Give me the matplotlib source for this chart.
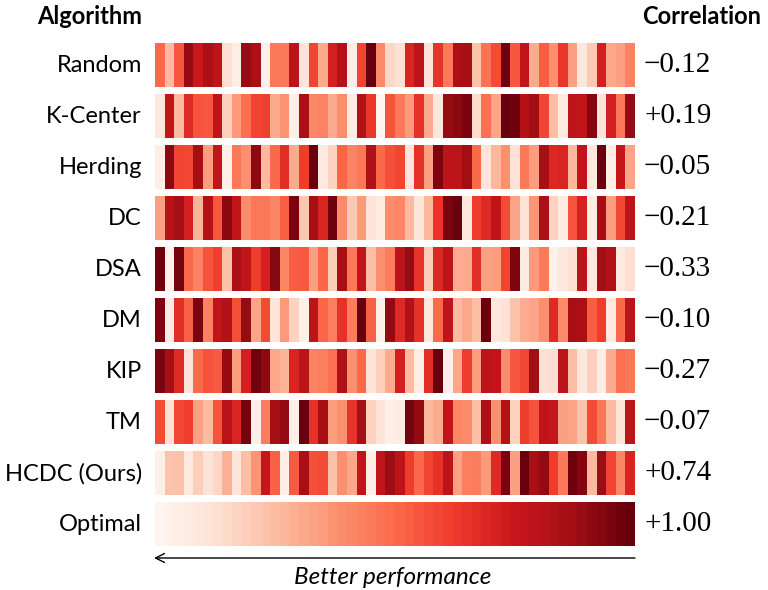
import numpy as np
import matplotlib
matplotlib.use("Agg")
import matplotlib.pyplot as plt

# Rows top to bottom and the correlation printed on the right.
algorithms = ["Random", "K-Center", "Herding", "DC", "DSA", "DM", "KIP", "TM", "HCDC (Ours)", "Optimal"]
correlations = ["\u22120.12", "+0.19", "\u22120.05", "\u22120.21", "\u22120.33",
                "\u22120.10", "\u22120.27", "\u22120.07", "+0.74", "+1.00"]

random_row = [0.50, 0.25, 0.55, 0.90, 0.75, 0.85, 0.80, 0.12, 0.05, 0.90, 0.85, 0.02, 0.45, 0.45, 0.80, 0.10, 0.60,
              0.30, 0.72, 0.82, 0.05, 0.60, 1.00, 0.40, 0.15, 0.12, 0.70, 0.80, 0.10, 0.65, 0.45, 0.85, 0.86, 0.22,
              0.47, 0.58, 0.98, 0.55, 0.78, 0.30, 0.53, 0.38, 0.64, 0.33, 0.08, 0.20, 0.72, 0.31, 0.33, 0.42]
kcenter_row = [0.08, 0.78, 0.25, 0.68, 0.56, 0.55, 0.79, 0.18, 0.35, 0.48, 0.60, 0.61, 0.30, 0.37, 0.04, 0.85, 0.41,
               0.42, 0.30, 0.39, 0.05, 0.83, 0.64, 0.01, 0.56, 0.45, 0.35, 0.66, 0.30, 0.08, 0.90, 0.92, 0.96, 0.14,
               0.48, 0.32, 1.00, 0.98, 0.82, 0.88, 0.60, 0.24, 0.06, 0.80, 0.78, 0.94, 0.10, 0.72, 0.46, 0.90]
herding_row = [0.04, 0.92, 0.60, 0.59, 0.86, 0.34, 0.78, 0.03, 0.45, 0.38, 0.92, 0.25, 0.50, 0.67, 0.30, 0.62, 1.00,
               0.07, 0.17, 0.51, 0.42, 0.46, 0.84, 0.50, 0.57, 0.60, 0.10, 0.66, 0.33, 0.95, 0.79, 0.80, 0.88, 0.50,
               0.09, 0.26, 0.38, 0.11, 0.45, 0.34, 0.86, 0.69, 0.70, 0.26, 0.78, 0.07, 0.99, 0.04, 0.77, 0.32]
dc_row = [0.33, 0.81, 0.87, 0.72, 0.27, 0.82, 0.55, 0.92, 0.78, 0.39, 0.45, 0.46, 0.41, 0.53, 0.96, 0.21, 0.86,
          0.70, 0.98, 0.40, 0.20, 0.35, 0.10, 0.06, 0.39, 0.41, 0.25, 0.09, 0.26, 0.65, 0.96, 0.99, 0.08, 0.62,
          0.68, 0.79, 0.58, 0.32, 0.11, 0.36, 0.85, 0.17, 0.06, 0.56, 0.71, 0.04, 0.87, 0.34, 0.59, 0.80]
dsa_row = [0.98, 0.02, 0.97, 0.50, 0.42, 0.56, 0.61, 0.23, 0.85, 0.79, 0.62, 0.72, 0.93, 0.41, 0.53, 0.54, 0.33,
           0.51, 0.19, 0.86, 0.46, 0.78, 0.24, 0.38, 0.44, 0.80, 0.90, 0.65, 0.19, 0.69, 0.79, 0.29, 0.30, 0.67,
           0.33, 0.34, 0.60, 0.95, 0.06, 0.35, 0.45, 0.02, 0.08, 0.12, 0.80, 0.07, 0.88, 0.83, 0.07, 0.13]
dm_row = [0.95, 0.06, 0.67, 0.52, 0.96, 0.42, 0.79, 0.83, 0.57, 0.90, 0.32, 0.58, 0.09, 0.35, 0.17, 0.03, 0.80,
          0.51, 0.43, 0.66, 0.44, 0.99, 0.52, 0.02, 0.91, 0.68, 0.83, 0.66, 0.08, 0.50, 0.79, 0.25, 0.31, 0.24,
          0.99, 0.08, 0.11, 0.22, 0.29, 0.32, 0.38, 0.68, 0.40, 0.86, 0.85, 0.53, 0.62, 0.07, 0.50, 0.80]
kip_row = [0.96, 0.87, 0.68, 0.10, 0.50, 0.56, 0.54, 0.90, 0.34, 0.72, 0.98, 0.92, 0.31, 0.27, 0.70, 0.80, 0.42,
           0.43, 0.48, 0.84, 0.38, 0.50, 0.10, 0.18, 0.30, 0.72, 0.25, 0.05, 0.67, 1.00, 0.03, 0.31, 0.62, 0.34,
           0.80, 0.78, 0.39, 0.55, 0.59, 0.88, 0.12, 0.13, 0.80, 0.24, 0.08, 0.18, 0.04, 0.30, 0.48, 0.46]
tm_row = [0.58, 0.12, 0.59, 0.61, 0.33, 0.25, 0.56, 0.81, 0.70, 0.97, 0.04, 0.44, 0.87, 0.91, 0.03, 0.99, 0.66,
          0.86, 0.34, 0.38, 0.65, 0.87, 0.17, 0.10, 0.04, 0.06, 0.97, 0.91, 0.26, 0.30, 0.78, 0.41, 0.40, 0.24,
          0.85, 0.38, 0.82, 0.17, 0.62, 0.56, 0.79, 0.77, 0.33, 0.32, 0.22, 0.58, 0.46, 0.25, 0.09, 0.80]
hcdc_row = [0.03, 0.22, 0.23, 0.07, 0.19, 0.10, 0.16, 0.28, 0.09, 0.24, 0.37, 0.77, 0.52, 0.04, 0.54, 0.86, 0.57,
            0.58, 0.23, 0.38, 0.31, 0.78, 0.04, 0.79, 0.89, 0.80, 0.62, 0.50, 0.60, 0.66, 0.80, 0.33, 0.43, 0.44,
            0.35, 0.68, 0.96, 0.33, 0.99, 0.86, 0.91, 0.62, 0.45, 0.98, 0.94, 0.25, 0.89, 0.60, 0.41, 0.70]
# Optimal row is just the rank order, lightest to darkest.
optimal_rank = [0, 1, 2, 3, 4, 5, 6, 7, 8, 9, 10, 11, 12, 13, 14, 15, 16, 17, 18, 19, 20, 21, 22, 23, 24,
                25, 26, 27, 28, 29, 30, 31, 32, 33, 34, 35, 36, 37, 38, 39, 40, 41, 42, 43, 44, 45, 46, 47, 48, 49]

rows = [random_row, kcenter_row, herding_row, dc_row, dsa_row, dm_row, kip_row, tm_row, hcdc_row,
        list(np.array(optimal_rank) / max(optimal_rank))]

W, H = 768, 590
STRIP = 0.852  # strip height as a fraction of the row pitch
LABEL_FONT = "Lato"
NUM_FONT = "Liberation Serif"

fig = plt.figure(figsize=(W / 100, H / 100), dpi=100)
top_px, pitch_px = 43.3, 51.05
ax = fig.add_axes([155 / W, 1 - (top_px + (9 + STRIP) * pitch_px) / H, 480 / W, (9 + STRIP) * pitch_px / H])

for i, row in enumerate(rows):
    ax.imshow(np.array(row)[None, :], cmap="Reds", vmin=0, vmax=1, aspect="auto",
              interpolation="nearest", extent=(0, len(row), i + STRIP, i))
ax.set_xlim(0, 50)
ax.set_ylim(9 + STRIP, 0)
ax.axis("off")

def fy(py):
    # Pixel row (from the top) to figure fraction.
    return 1 - py / H

for i, (name, corr) in enumerate(zip(algorithms, correlations)):
    yc = fy(top_px + i * pitch_px + STRIP * pitch_px / 2)
    fig.text(142 / W, yc, name, ha="right", va="center", fontsize=17, family=LABEL_FONT)
    fig.text(644 / W, yc, corr, ha="left", va="center", fontsize=21, family=NUM_FONT)

fig.text(142 / W, fy(17), "Algorithm", ha="right", va="center", fontsize=17, family=LABEL_FONT, fontweight="bold")
fig.text(642 / W, fy(17), "Correlation", ha="left", va="center", fontsize=17, family=LABEL_FONT, fontweight="bold")

# Arrow under the strips, pointing towards the better end.
ax.annotate("", xy=(154, H - 558), xytext=(635, H - 558), xycoords="figure pixels", textcoords="figure pixels",
            arrowprops=dict(arrowstyle="->", color="black", lw=1.0, shrinkA=0, shrinkB=0, mutation_scale=16))
fig.text(393 / W, fy(578), "Better performance", ha="center", va="center", fontsize=17.5, family=LABEL_FONT,
         style="italic")

fig.savefig("out.png", dpi=100)
